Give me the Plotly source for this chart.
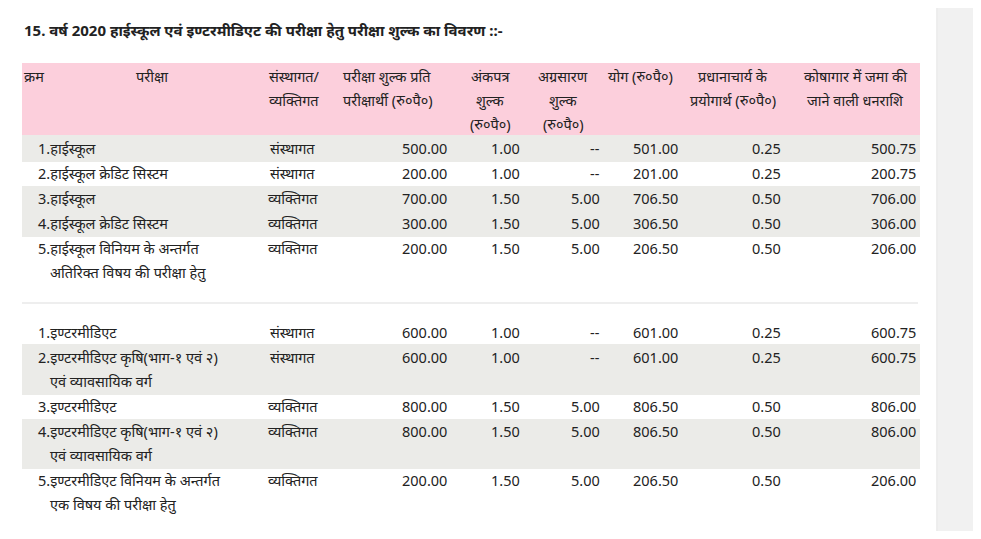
import plotly.graph_objects as go

title = "15. वर्ष 2020 हाईस्कूल एवं इण्टरमीडिएट की परीक्षा हेतु परीक्षा शुल्क का विवरण ::-"

headers = [
    ["क्रम"], ["परीक्षा"], ["संस्थागत/", "व्यक्तिगत"], ["परीक्षा शुल्क प्रति", "परीक्षार्थी (रु०पै०)"],
    ["अंकपत्र", "शुल्क", "(रु०पै०)"], ["अग्रसारण", "शुल्क", "(रु०पै०)"], ["योग (रु०पै०)"],
    ["प्रधानाचार्य के", "प्रयोगार्थ (रु०पै०)"], ["कोषागार में जमा की", "जाने वाली धनराशि"],
]

hs_exams = [
    ["1.हाईस्कूल"], ["2.हाईस्कूल क्रेडिट सिस्टम"], ["3.हाईस्कूल"], ["4.हाईस्कूल क्रेडिट सिस्टम"],
    ["5.हाईस्कूल विनियम के अन्तर्गत", "अतिरिक्त विषय की परीक्षा हेतु"],
]
hs_type = ["संस्थागत", "संस्थागत", "व्यक्तिगत", "व्यक्तिगत", "व्यक्तिगत"]
hs_fee = ["500.00", "200.00", "700.00", "300.00", "200.00"]
hs_marksheet = ["1.00", "1.00", "1.50", "1.50", "1.50"]
hs_forward = ["--", "--", "5.00", "5.00", "5.00"]
hs_total = ["501.00", "201.00", "706.50", "306.50", "206.50"]
hs_principal = ["0.25", "0.25", "0.50", "0.50", "0.50"]
hs_treasury = ["500.75", "200.75", "706.00", "306.00", "206.00"]

in_exams = [
    ["1.इण्टरमीडिएट"], ["2.इण्टरमीडिएट कृषि(भाग-१ एवं २)", "एवं व्यावसायिक वर्ग"], ["3.इण्टरमीडिएट"],
    ["4.इण्टरमीडिएट कृषि(भाग-१ एवं २)", "एवं व्यावसायिक वर्ग"],
    ["5.इण्टरमीडिएट विनियम के अन्तर्गत", "एक विषय की परीक्षा हेतु"],
]
in_type = ["संस्थागत", "संस्थागत", "व्यक्तिगत", "व्यक्तिगत", "व्यक्तिगत"]
in_fee = ["600.00", "600.00", "800.00", "800.00", "200.00"]
in_marksheet = ["1.00", "1.00", "1.50", "1.50", "1.50"]
in_forward = ["--", "--", "5.00", "5.00", "5.00"]
in_total = ["601.00", "601.00", "806.50", "806.50", "206.50"]
in_principal = ["0.25", "0.25", "0.50", "0.50", "0.50"]
in_treasury = ["600.75", "600.75", "806.00", "806.00", "206.00"]

FONT = "Noto Sans, Noto Sans Devanagari, DejaVu Sans, sans-serif"
TXT = "#222"
fig = go.Figure()
shapes = []
ann = []


def text(x, y, s, anchor="left", size=14.5, bold=False):
    ann.append(dict(x=x, y=y, text=f"<b>{s}</b>" if bold else s, xref="x", yref="y",
                    xanchor=anchor, yanchor="middle", showarrow=False,
                    font=dict(family=FONT, size=size, color=TXT)))


def rect(x0, y0, x1, y1, color):
    shapes.append(dict(type="rect", x0=x0, x1=x1, y0=y0, y1=y1, xref="x", yref="y",
                       fillcolor=color, line_width=0, layer="below"))


# page frame
rect(938, 0, 990, 545, "#f1f1f1")
shapes.append(dict(type="line", x0=937, x1=937, y0=0, y1=545, line=dict(color="#dcdcdc", width=1)))
shapes.append(dict(type="line", x0=5, x1=937, y0=534, y1=534, line=dict(color="#e4e4e4", width=1)))

text(22, 30, title, size=15, bold=True)

# header
rect(22, 63, 920, 135, "#fccfdc")
head_pos = [(22, "left"), (152, "center"), (267, "left"), (341, "left"), (490, "center"),
            (563, "center"), (606, "left"), (733, "center"), (855, "center")]
for lines, (x, a) in zip(headers, head_pos):
    for i, s in enumerate(lines):
        text(x, 76 + i * 24, s, anchor=a)

GRAY = "#ebebe8"


def section(top, exams, typ, cols, bands):
    for y0, y1 in bands:
        rect(22, y0, 920, y1, GRAY)
    y = top
    for k, lines in enumerate(exams):
        text(36, y, lines[0])
        for j, s in enumerate(lines[1:]):
            text(48, y + 24 * (j + 1), s)
        text(268 if typ[k].startswith("स") else 266, y, typ[k])
        for vals, xr in zip(cols, [449, 522, 602, 680, 783, 918]):
            text(xr, y, vals[k], anchor="right")
        y += 24 * len(lines) + 1


section(148, hs_exams, hs_type,
        [hs_fee, hs_marksheet, hs_forward, hs_total, hs_principal, hs_treasury],
        [(135, 162), (186, 237)])
shapes.append(dict(type="line", x0=22, x1=918, y0=303, y1=303, line=dict(color="#dddddd", width=1)))
section(332, in_exams, in_type,
        [in_fee, in_marksheet, in_forward, in_total, in_principal, in_treasury],
        [(344, 395), (419, 469)])

# page body has an 8px margin, so draw 965x523 showing page coords 8..973 / 8..531
fig.update_layout(
    width=965, height=523, margin=dict(l=0, r=0, t=0, b=0),
    plot_bgcolor="white", paper_bgcolor="white",
    xaxis=dict(range=[8, 973], visible=False, fixedrange=True),
    yaxis=dict(range=[531, 8], visible=False, fixedrange=True),
    shapes=shapes, annotations=ann, showlegend=False,
)
fig.write_html("out.html", config={"displayModeBar": False})
